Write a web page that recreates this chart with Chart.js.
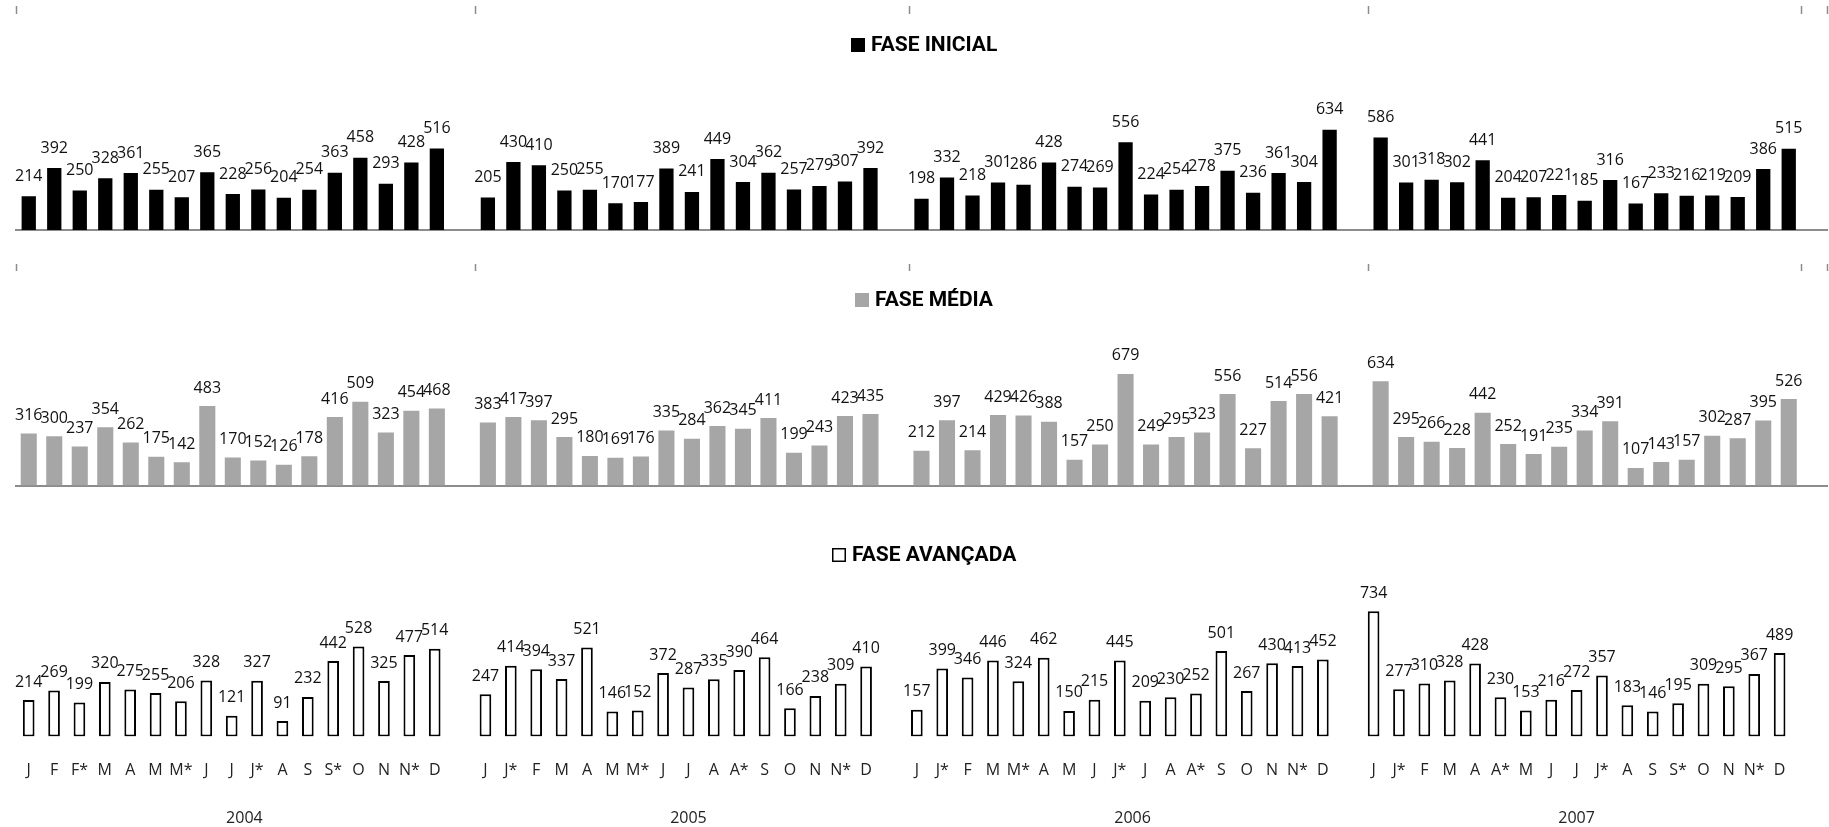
<!DOCTYPE html>
<html lang="pt">
<head>
<meta charset="utf-8">
<title>Fases</title>
<script src="https://cdn.jsdelivr.net/npm/chart.js@4.4.1/dist/chart.umd.min.js"></script>
<style>
  html, body { margin: 0; padding: 0; background: #fff; }
  #wrap { position: relative; width: 1829px; height: 827px; overflow: hidden; }
  canvas { position: absolute; left: 0; }
  #c-inicial  { top: 0; }
  #c-media    { top: 250px; }
  #c-avancada { top: 510px; }
</style>
</head>
<body>
<div id="wrap">
  <canvas id="c-inicial" width="1829" height="250"></canvas>
  <canvas id="c-media" width="1829" height="260"></canvas>
  <canvas id="c-avancada" width="1829" height="317"></canvas>
</div>
<script>
/* ── month labels per year ( * = second count in the same month ) ── */
const MONTHS_2004 = ['J', 'F', 'F*', 'M', 'A', 'M', 'M*', 'J', 'J', 'J*', 'A', 'S', 'S*', 'O', 'N', 'N*', 'D'];
const MONTHS_2005 = ['J', 'J*', 'F', 'M', 'A', 'M', 'M*', 'J', 'J', 'A', 'A*', 'S', 'O', 'N', 'N*', 'D'];
const MONTHS_2006 = ['J', 'J*', 'F', 'M', 'M*', 'A', 'M', 'J', 'J*', 'J', 'A', 'A*', 'S', 'O', 'N', 'N*', 'D'];
const MONTHS_2007 = ['J', 'J*', 'F', 'M', 'A', 'A*', 'M', 'J', 'J', 'J*', 'A', 'S', 'S*', 'O', 'N', 'N*', 'D'];
const YEARS = ['2004', '2005', '2006', '2007'];

/* ── FASE INICIAL ── */
const INICIAL_2004 = [214, 392, 250, 328, 361, 255, 207, 365, 228, 256, 204, 254, 363, 458, 293, 428, 516];
const INICIAL_2005 = [205, 430, 410, 250, 255, 170, 177, 389, 241, 449, 304, 362, 257, 279, 307, 392];
const INICIAL_2006 = [198, 332, 218, 301, 286, 428, 274, 269, 556, 224, 254, 278, 375, 236, 361, 304, 634];
const INICIAL_2007 = [586, 301, 318, 302, 441, 204, 207, 221, 185, 316, 167, 233, 216, 219, 209, 386, 515];

/* ── FASE MÉDIA ── */
const MEDIA_2004 = [316, 300, 237, 354, 262, 175, 142, 483, 170, 152, 126, 178, 416, 509, 323, 454, 468];
const MEDIA_2005 = [383, 417, 397, 295, 180, 169, 176, 335, 284, 362, 345, 411, 199, 243, 423, 435];
const MEDIA_2006 = [212, 397, 214, 429, 426, 388, 157, 250, 679, 249, 295, 323, 556, 227, 514, 556, 421];
const MEDIA_2007 = [634, 295, 266, 228, 442, 252, 191, 235, 334, 391, 107, 143, 157, 302, 287, 395, 526];

/* ── FASE AVANÇADA ── */
const AVANCADA_2004 = [214, 269, 199, 320, 275, 255, 206, 328, 121, 327, 91, 232, 442, 528, 325, 477, 514];
const AVANCADA_2005 = [247, 414, 394, 337, 521, 146, 152, 372, 287, 335, 390, 464, 166, 238, 309, 410];
const AVANCADA_2006 = [157, 399, 346, 446, 324, 462, 150, 215, 445, 209, 230, 252, 501, 267, 430, 413, 452];
const AVANCADA_2007 = [734, 277, 310, 328, 428, 230, 153, 216, 272, 357, 183, 146, 195, 309, 295, 367, 489];

const MONTH_GROUPS = [MONTHS_2004, MONTHS_2005, MONTHS_2006, MONTHS_2007];

// each year is followed by one empty slot
const LABELS = MONTH_GROUPS.flatMap(m => [...m, '']);
const withGaps = groups => groups.flatMap(g => [...g, null]);

// year separators (category indices): start of every year, end of the last year, end of axis
const BOUNDS = [];
let slot = 0;
MONTH_GROUPS.forEach(m => { BOUNDS.push(slot); slot += m.length + 1; });
BOUNDS.push(slot - 1, slot);

const edgePx = (scale, b) => scale.getPixelForValue(b - 0.5);

/* value above every bar */
const barValues = {
  id: 'barValues',
  afterDatasetsDraw(chart, args, opts) {
    const { ctx } = chart;
    const ds = chart.data.datasets[0];
    ctx.save();
    ctx.font = '16px "Open Sans"';
    ctx.fillStyle = '#111';
    ctx.textAlign = 'center';
    ctx.textBaseline = 'middle';
    chart.getDatasetMeta(0).data.forEach((bar, i) => {
      const v = ds.data[i];
      if (v == null) return;
      ctx.fillText(String(v), bar.x, bar.y - opts.offset);
    });
    ctx.restore();
  }
};

/* series name with its colour swatch, centred above the bars */
const panelTitle = {
  id: 'panelTitle',
  afterDraw(chart, args, opts) {
    const { ctx } = chart;
    const ds = chart.data.datasets[0];
    const box = 14, gap = 6;
    ctx.save();
    ctx.font = 'bold 21px Roboto';
    const w = ctx.measureText(ds.label).width;
    const x0 = Math.round(opts.centerX - (box + gap + w) / 2);
    const y0 = Math.round(opts.y - box / 2);
    ctx.fillStyle = ds.backgroundColor;
    ctx.fillRect(x0, y0, box, box);
    if (ds.borderWidth) {
      ctx.lineWidth = 1.5;
      ctx.strokeStyle = ds.borderColor;
      ctx.strokeRect(x0 + 0.75, y0 + 0.75, box - 1.5, box - 1.5);
    }
    ctx.fillStyle = '#000';
    ctx.textAlign = 'left';
    ctx.textBaseline = 'middle';
    ctx.fillText(ds.label, x0 + box + gap, opts.y + 1);
    ctx.restore();
  }
};

/* small separator marks between years along the top edge */
const yearMarks = {
  id: 'yearMarks',
  afterDraw(chart, args, opts) {
    if (!opts.show) return;
    const { ctx } = chart;
    const x = chart.scales.x;
    ctx.save();
    ctx.strokeStyle = '#8c8c8c';
    ctx.lineWidth = 1.5;
    BOUNDS.forEach(b => {
      const px = Math.round(edgePx(x, b)) + 0.5;
      ctx.beginPath();
      ctx.moveTo(px, opts.y0);
      ctx.lineTo(px, opts.y1);
      ctx.stroke();
    });
    ctx.restore();
  }
};

/* year captions under the month letters */
const yearLabels = {
  id: 'yearLabels',
  afterDraw(chart, args, opts) {
    if (!opts.show) return;
    const { ctx } = chart;
    const x = chart.scales.x;
    ctx.save();
    ctx.font = '16px "Open Sans"';
    ctx.fillStyle = '#222';
    ctx.textAlign = 'center';
    ctx.textBaseline = 'middle';
    YEARS.forEach((yr, i) => {
      const cx = (edgePx(x, BOUNDS[i]) + edgePx(x, BOUNDS[i + 1])) / 2;
      ctx.fillText(yr, cx, opts.y);
    });
    ctx.restore();
  }
};

function buildPanel(canvasId, ds, p) {
  return new Chart(document.getElementById(canvasId), {
    type: 'bar',
    data: {
      labels: LABELS,
      datasets: [Object.assign({
        categoryPercentage: 1,
        borderSkipped: false,
      }, ds)],
    },
    options: {
      responsive: false,
      animation: false,
      events: [],
      devicePixelRatio: 1,
      layout: { padding: p.padding },
      plugins: {
        legend: { display: false },
        tooltip: { enabled: false },
        barValues: { offset: p.labelOffset },
        panelTitle: { centerX: 924, y: p.titleY },
        yearMarks: { show: !p.monthAxis, y0: p.markY0, y1: p.markY1 },
        yearLabels: { show: !!p.monthAxis, y: p.yearY },
      },
      scales: {
        x: {
          grid: { display: false, drawTicks: false },
          border: p.monthAxis
            ? { display: false }
            : { display: true, color: '#8c8c8c', width: 2 },
          ticks: p.monthAxis
            ? { display: true, autoSkip: false, maxRotation: 0, minRotation: 0, padding: 24,
                color: '#222', font: { family: 'Open Sans', size: 16 } }
            : { display: false },
          afterFit: scale => { scale.height = p.monthAxis ? 70 : 0; },
        },
        y: { display: false, min: 0, max: 800 },
      },
    },
    plugins: [barValues, panelTitle, yearMarks, yearLabels],
  });
}

buildPanel('c-inicial', {
  label: 'FASE INICIAL',
  data: withGaps([INICIAL_2004, INICIAL_2005, INICIAL_2006, INICIAL_2007]),
  backgroundColor: '#000000',
  borderWidth: 0,
  barPercentage: 0.56,
}, { padding: { top: 103.6, bottom: 20, left: 16, right: 2 }, labelOffset: 20, titleY: 45, markY0: 6, markY1: 14 });

buildPanel('c-media', {
  label: 'FASE MÉDIA',
  data: withGaps([MEDIA_2004, MEDIA_2005, MEDIA_2006, MEDIA_2007]),
  backgroundColor: '#a6a6a6',
  borderWidth: 0,
  barPercentage: 0.63,
}, { padding: { top: 104, bottom: 24.5, left: 16, right: 2 }, labelOffset: 18, titleY: 50, markY0: 14, markY1: 21 });

buildPanel('c-avancada', {
  label: 'FASE AVANÇADA',
  data: withGaps([AVANCADA_2004, AVANCADA_2005, AVANCADA_2006, AVANCADA_2007]),
  backgroundColor: '#ffffff',
  borderColor: '#000000',
  borderWidth: 2,
  barPercentage: 0.46,
}, { padding: { top: 90, bottom: 20.5, left: 16, right: 2 }, labelOffset: 18, titleY: 45, monthAxis: true, yearY: 308 });
</script>
</body>
</html>
